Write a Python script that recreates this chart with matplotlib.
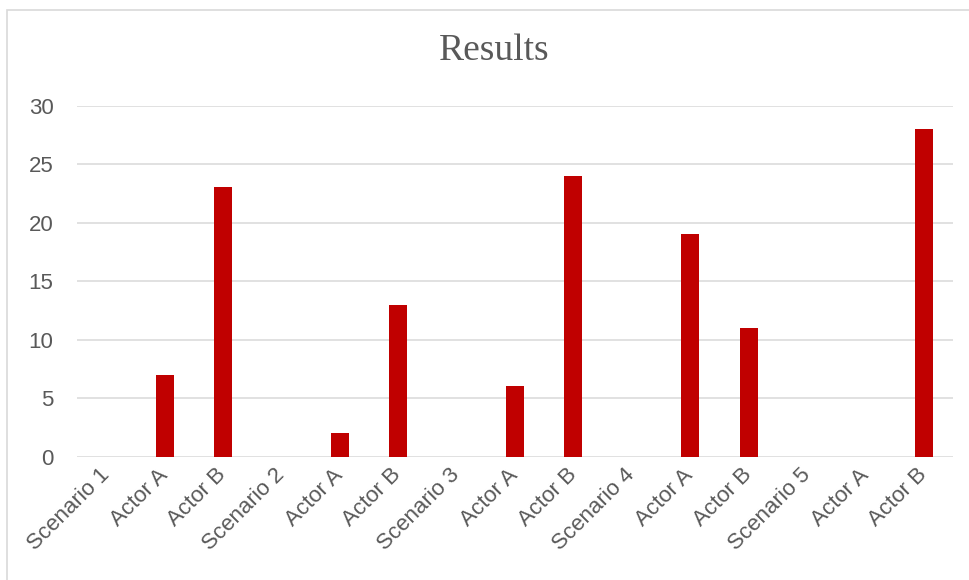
import matplotlib.pyplot as plt
from matplotlib.patches import Rectangle

categories = ["Scenario 1", "Actor A", "Actor B",
              "Scenario 2", "Actor A", "Actor B",
              "Scenario 3", "Actor A", "Actor B",
              "Scenario 4", "Actor A", "Actor B",
              "Scenario 5", "Actor A", "Actor B"]
values = [0, 7, 23, 0, 2, 13, 0, 6, 24, 0, 19, 11, 0, 0, 28]
y_ticks = [0, 5, 10, 15, 20, 25, 30]

text_grey = "#595959"
grid_grey = "#d9d9d9"

fig = plt.figure(figsize=(9.69, 5.80), dpi=100)
ax = fig.add_axes([0.0795, 0.2126, 0.904, 0.6054])

# outer chart frame (cut off on the right and bottom like the screenshot)
fig.patches.append(Rectangle((7 / 969, -0.1), 1.1, 1 - 10 / 580 + 0.1,
                             transform=fig.transFigure, fill=False,
                             edgecolor=grid_grey, linewidth=1.2))

x = range(len(categories))
ax.bar(x, values, width=0.31, color="#C00000", linewidth=0, zorder=3)

ax.set_xlim(-0.5, len(categories) - 0.5)
ax.set_ylim(0, 30)
ax.set_yticks(y_ticks)
ax.yaxis.grid(True, color=grid_grey, linewidth=1.1, zorder=0)
ax.set_axisbelow(True)

for s in ax.spines.values():
    s.set_visible(False)

ax.tick_params(axis="both", length=0, labelcolor=text_grey, labelsize=16)
ax.tick_params(axis="y", pad=17)
ax.set_yticklabels([str(t) for t in y_ticks], fontfamily="Liberation Sans")

ax.set_xticks(list(x))
ax.set_xticklabels(categories, rotation=45, ha="right", va="center",
                   rotation_mode="anchor", fontfamily="Liberation Sans")
ax.tick_params(axis="x", pad=11)

fig.text(0.5103, 1 - 51 / 580, "Results", ha="center", va="center",
         fontsize=27, color=text_grey, fontfamily="Liberation Serif")

fig.savefig("out.png", dpi=100)
